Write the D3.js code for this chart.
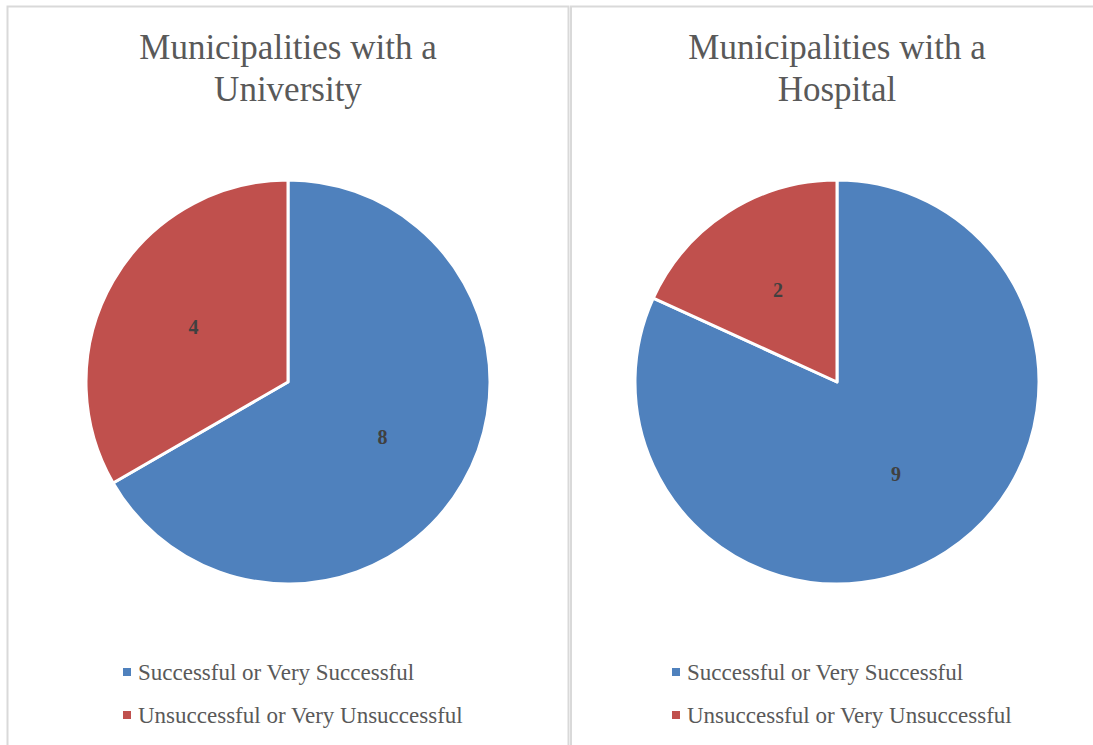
<!DOCTYPE html>
<html>
<head>
<meta charset="utf-8">
<script src="https://cdn.jsdelivr.net/npm/d3@7"></script>
<style>
  html, body { margin: 0; padding: 0; background: #fff; }
  svg { display: block; }
</style>
</head>
<body>
<svg id="chart" width="1093" height="745"></svg>
<script>
// Survey outcome counts by municipality type
const categories = ["Successful or Very Successful", "Unsuccessful or Very Unsuccessful"];
const universityTitle = ["Municipalities with a", "University"];
const hospitalTitle = ["Municipalities with a", "Hospital"];
const universityValues = [8, 4];
const hospitalValues = [9, 2];
const colors = ["#4F81BD", "#C0504D"];

const panels = [
  { title: universityTitle, values: universityValues, x: 7.5, w: 561 },
  { title: hospitalTitle, values: hospitalValues, x: 571, w: 532 }
];

const H = 745;
const svg = d3.select("#chart");
const font = "Liberation Serif";

const color = d3.scaleOrdinal().domain(categories).range(colors);
const pie = d3.pie().sort(null).value(d => d.value);
const radius = 202;
const arc = d3.arc().innerRadius(0).outerRadius(radius);

panels.forEach((p) => {
  const x0 = p.x;
  const g = svg.append("g");

  // light grey frame around each chart
  g.append("rect")
    .attr("x", x0).attr("y", 6.5)
    .attr("width", p.w).attr("height", H + 20)
    .attr("fill", "#fff")
    .attr("stroke", "#d9d9d9")
    .attr("stroke-width", 2);

  const cx = x0 + p.w / 2;
  const cy = 382;

  // title
  const title = g.append("text")
    .attr("text-anchor", "middle")
    .style("font-family", font)
    .style("font-size", "35px")
    .attr("fill", "#595959");
  p.title.forEach((line, k) => {
    title.append("tspan").attr("x", cx).attr("y", 59 + k * 42).text(line);
  });

  // slices
  const data = pie(p.values.map((v, k) => ({ value: v, cat: categories[k] })));
  const pg = g.append("g").attr("transform", `translate(${cx},${cy})`);
  pg.selectAll("path").data(data).join("path")
    .attr("d", arc)
    .attr("fill", d => color(d.data.cat))
    .attr("stroke", "#fff")
    .attr("stroke-width", 3)
    .attr("stroke-linejoin", "round");

  // value labels
  const labelArc = d3.arc().innerRadius(radius * 0.54).outerRadius(radius * 0.54);
  pg.selectAll("text.val").data(data).join("text")
    .attr("class", "val")
    .attr("transform", d => `translate(${labelArc.centroid(d)})`)
    .attr("text-anchor", "middle")
    .attr("dy", "0.35em")
    .style("font-family", font)
    .style("font-size", "20px")
    .style("font-weight", "bold")
    .attr("fill", "#404040")
    .text(d => d.data.value);

  // legend
  const lg = g.append("g").attr("transform", `translate(${cx - 165},672)`);
  categories.forEach((c, k) => {
    const row = lg.append("g").attr("transform", `translate(0,${k * 43})`);
    row.append("rect")
      .attr("x", 0).attr("y", -4).attr("width", 8).attr("height", 8)
      .attr("fill", color(c));
    row.append("text")
      .attr("x", 15).attr("y", 0).attr("dy", "0.35em")
      .style("font-family", font)
      .style("font-size", "23px")
      .attr("fill", "#595959")
      .text(c);
  });
});
</script>
</body>
</html>
